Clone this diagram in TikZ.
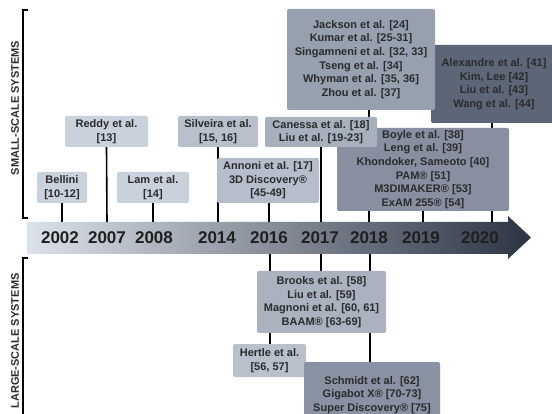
\documentclass[tikz,border=0pt]{standalone}
\usepackage{fontspec}
\setmainfont{Liberation Sans}
\usetikzlibrary{backgrounds}
\definecolor{txt}{HTML}{2B2B2B}
\definecolor{boxA}{HTML}{C9D1DC}
\definecolor{boxB}{HTML}{B8C0CC}
\definecolor{boxC}{HTML}{A7B0BD}
\definecolor{boxD}{HTML}{97A0AF}
\definecolor{boxE}{HTML}{878FA0}
\definecolor{boxF}{HTML}{5D6676}
\definecolor{arrowL}{HTML}{DCE2E9}
\definecolor{arrowM}{HTML}{98A0AD}
\definecolor{arrowR}{HTML}{2C3444}
\begin{document}
\begin{tikzpicture}[x=1pt,y=-1pt,
    box/.style={rounded corners=2pt,align=center,inner sep=0pt,text=txt,
        font=\bfseries\fontsize{11}{13.6}\selectfont},
    stem/.style={line width=1.6pt},
    year/.style={text=black!88,font=\bfseries\fontsize{17}{17}\selectfont},
    side/.style={rotate=90,text=txt,font=\bfseries\fontsize{11}{11}\selectfont}]
        \useasboundingbox (0,0) rectangle (552,414);

        % tick points on the time axis
        \coordinate (a2002) at (62,222);
        \coordinate (a2007) at (107,222);
        \coordinate (a2008) at (153,222);
        \coordinate (a2014) at (218,222);
        \coordinate (a2016) at (269,222);
        \coordinate (a2017) at (321,222);
        \coordinate (a2018) at (369,222);
        \coordinate (a2019) at (423,222);
        \coordinate (a2020) at (492,222);
        \coordinate (b2016) at (270,254);
        \coordinate (b2017) at (321,254);
        \coordinate (b2018) at (370,254);

        \node[side] (small) at (15,108) {SMALL-SCALE SYSTEMS};
        \node[side] (large) at (15,341) {LARGE-SCALE SYSTEMS};
        \draw[line width=1.8pt] (28,10) -- (23,10) -- (23,218) -- (28,218);
        \draw[line width=1.8pt] (28,258) -- (23,258) -- (23,416);

        % small-scale systems
        \node[box,fill=boxA,minimum width=50pt,minimum height=31pt] (bellini) at (62,187.5){Bellini\\{}[10-12]};
        \node[box,fill=boxA,minimum width=83pt,minimum height=31pt] (reddy) at (106.5,131.5){Reddy et al.\\{}[13]};
        \node[box,fill=boxA,minimum width=72pt,minimum height=31pt] (lam) at (153,187.5){Lam et al.\\{}[14]};
        \node[box,fill=boxB,minimum width=80pt,minimum height=31pt] (silveira) at (218,131.5){Silveira et al.\\{}[15, 16]};
        \node[box,fill=boxB!90!boxC,minimum width=102pt,minimum height=45pt] (annoni) at (268,180.5){Annoni et al. [17]\\3D Discovery®\\{}[45-49]};
        \node[box,fill=boxF,minimum width=126pt,minimum height=78pt] (alexandre) at (494,84){Alexandre et al. [41]\\Kim, Lee [42]\\Liu et al. [43]\\Wang et al. [44]};
        \node[box,fill=boxD,minimum width=148pt,minimum height=101pt] (jackson) at (361,59.5){Jackson et al. [24]\\Kumar et al. [25-31]\\Singamneni et al. [32, 33]\\Tseng et al. [34]\\Whyman et al. [35, 36]\\Zhou et al. [37]};
        \node[box,fill=boxE,minimum width=172pt,minimum height=83pt] (boyle) at (423,169.5){Boyle et al. [38]\\Leng et al. [39]\\Khondoker, Sameoto [40]\\PAM® [51]\\M3DIMAKER® [53]\\ExAM 255® [54]};
        \node[box,fill=boxC,minimum width=112pt,minimum height=30pt] (canessa) at (321,132){Canessa et al. [18]\\Liu et al. [19-23]};

        % large-scale systems
        \node[box,fill=boxC!85!boxB,minimum width=129pt,minimum height=62pt] (brooks) at (321.5,302){Brooks et al. [58]\\Liu et al. [59]\\Magnoni et al. [60, 61]\\BAAM® [63-69]};
        \node[box,fill=boxB,minimum width=73pt,minimum height=33pt] (hertle) at (269.5,360.5){Hertle et al.\\{}[56, 57]};
        \node[box,fill=boxE!85!boxD,minimum width=136pt,minimum height=66pt] (schmidt) at (372,395){Schmidt et al. [62]\\Gigabot X® [70-73]\\Super Discovery® [75]};

        \begin{scope}[on background layer]
        \shade[left color=arrowL,middle color=arrowM,right color=arrowR]
            (27,222) -- (508,222) -- (508,216) -- (531,237.5) -- (508,259)
            -- (508,254) -- (27,254) -- cycle;
        \draw[stem] (bellini.south) -- (a2002);
        \draw[stem] (reddy.south) -- (a2007);
        \draw[stem] (lam.south) -- (a2008);
        \draw[stem] (silveira.south) -- (a2014);
        \draw[stem] (a2016 |- annoni.south) -- (a2016);
        \draw[stem] (canessa.south) -- (a2017);
        \draw[stem] (a2018 |- jackson.south) -- (a2018);
        \draw[stem] (a2019 |- boyle.south) -- (a2019);
        \draw[stem] (a2020 |- alexandre.south) -- (a2020);
        \draw[stem] (b2016) -- (b2016 |- hertle.north);
        \draw[stem] (b2017) -- (b2017 |- brooks.north);
        \draw[stem] (b2018) -- (b2018 |- schmidt.north);
        \end{scope}

        \node[year] (y2002) at (60,238) {2002};
        \node[year] (y2007) at (107,238) {2007};
        \node[year] (y2008) at (154,238) {2008};
        \node[year] (y2014) at (217,238) {2014};
        \node[year] (y2016) at (269,238) {2016};
        \node[year] (y2017) at (320,238) {2017};
        \node[year] (y2018) at (369,238) {2018};
        \node[year] (y2019) at (421,238) {2019};
        \node[year] (y2020) at (480,238) {2020};
    \end{tikzpicture}
\end{document}
